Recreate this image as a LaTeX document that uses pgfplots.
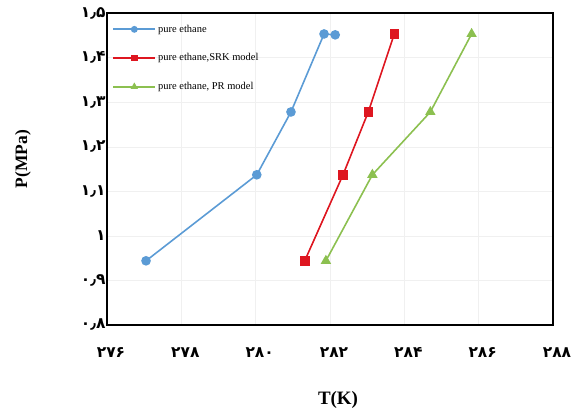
\documentclass[border=0pt]{standalone}
\usepackage{pgfplots}
\pgfplotsset{compat=1.18}
\usepackage{fontspec}
\setmainfont{Liberation Serif}
\newfontfamily\fa[Script=Arabic]{DejaVu Sans}
\definecolor{cblue}{RGB}{91,155,213}
\definecolor{cred}{RGB}{222,22,32}
\definecolor{cgreen}{RGB}{140,192,80}
\begin{document}
\begin{tikzpicture}
\useasboundingbox (-107bp,-91bp) rectangle (472bp,325bp);
\begin{axis}[
  at={(0,0)}, anchor=south west,
  scale only axis, width=446bp, height=312bp,
  xmin=276, xmax=288, ymin=0.8, ymax=1.5,
  xtick={276,278,...,288}, ytick={0.8,0.9,...,1.5},
  xticklabels={۲۷۶,۲۷۸,۲۸۰,۲۸۲,۲۸۴,۲۸۶,۲۸۸},
  yticklabels={۰٫۸,۰٫۹,۱,۱٫۱,۱٫۲,۱٫۳,۱٫۴,۱٫۵},
  ticklabel style={font=\fa\bfseries\fontsize{15.5}{17}\selectfont},
  xticklabel style={yshift=-19bp, xshift=4bp},
  yticklabel style={xshift=2bp},
  major tick length=0pt,
  axis line style={line width=1.2pt},
  grid=major, grid style={gray!12, line width=0.4pt},
  xlabel={\textbf{T(K)}}, ylabel={\textbf{P(MPa)}},
  xlabel style={font=\fontsize{19}{21}\selectfont, at={(axis description cs:0.5,0)}, anchor=center, yshift=-75bp, xshift=8bp},
  ylabel style={font=\fontsize{17.5}{20}\selectfont, at={(axis description cs:0,0.5)}, anchor=center, yshift=84bp, xshift=10bp},
  legend style={draw=none, fill=none, at={(0.005,0.975)}, anchor=north west,
    font=\fontsize{10.5}{11}\selectfont, row sep=16pt},
  legend cell align=left,
  legend image code/.code={
    \draw[#1, mark repeat=2, mark phase=2] plot coordinates {(0bp,0bp) (21bp,0bp) (42bp,0bp)};},
  legend image post style={mark size=2.5pt, line width=1.8pt},
]
\addplot[cblue, line width=1.6pt, mark=*, mark size=4pt] coordinates {
 (277.05,0.944) (280.03,1.137) (280.95,1.278) (281.84,1.453) (282.14,1.451)};
\addlegendentry{pure ethane}
\addplot[cred, line width=1.6pt, mark=square*, mark size=4pt] coordinates {
 (281.32,0.944) (282.35,1.137) (283.03,1.278) (283.73,1.453)};
\addlegendentry{pure ethane,SRK model}
\addplot[cgreen, line width=1.6pt, mark=triangle*, mark size=4.5pt] coordinates {
 (281.89,0.944) (283.14,1.137) (284.70,1.278) (285.81,1.453)};
\addlegendentry{pure ethane, PR model}
\end{axis}
\end{tikzpicture}
\end{document}
